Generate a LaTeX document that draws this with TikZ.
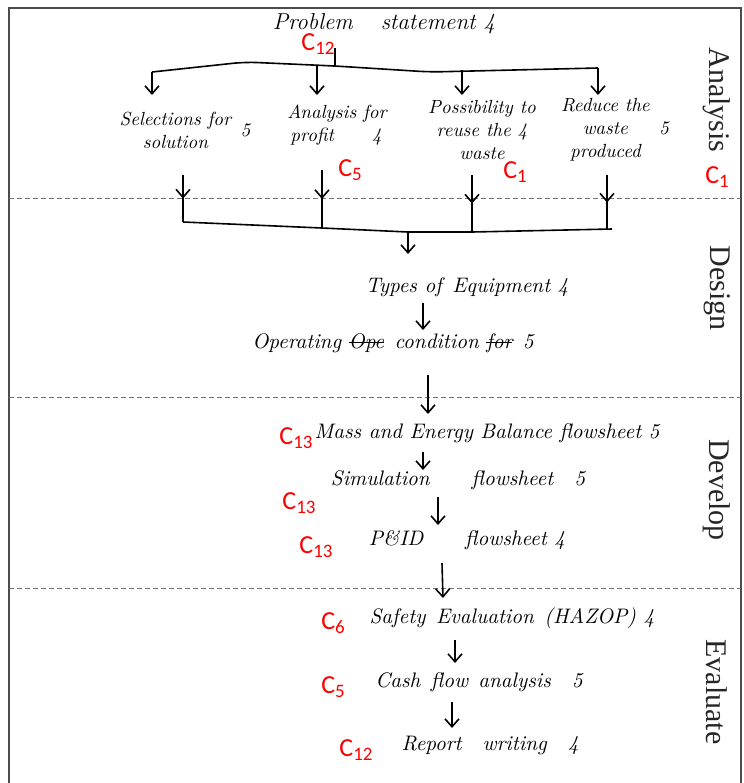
\documentclass[tikz,border=0pt]{standalone}
\usepackage{fontspec}
\usetikzlibrary{arrows.meta,positioning,calc,decorations.markings}
\newfontfamily\tagfont{Carlito}
\newfontfamily\phasefont{Liberation Serif}
\newcommand{\ctag}[1]{C\raisebox{-0.3ex}{\fontsize{9.5}{9.5}\selectfont #1}}
\newcommand{\crossout}[1]{\setbox0\hbox{#1}\rlap{\rule[0.6ex]{\wd0}{0.6pt}}\box0}

\begin{document}
\begin{tikzpicture}[x=0.5pt,y=-0.5pt,
  hand/.style={font=\fontsize{10.5}{12}\selectfont\itshape, inner sep=1pt},
  subhand/.style={font=\fontsize{9.5}{11.5}\selectfont\itshape, inner sep=1pt},
  tag/.style={font=\tagfont\fontsize{13}{13}\selectfont, text=red, inner sep=0pt},
  phase/.style={font=\phasefont\fontsize{15}{15}\selectfont, rotate=-90, text=black!85},
  flow/.style={-{Straight Barb[length=4pt,width=7pt]}, line width=0.8pt},
  midflow/.style={line width=0.8pt, decoration={markings,
      mark=at position 0.5 with {\arrow{Straight Barb[length=4pt,width=7pt]}}},
    postaction=decorate},
  border/.style={draw=black!70, line width=0.6pt},
  divider/.style={draw=black!55, dash pattern=on 2.5pt off 1.5pt, line width=0.4pt}]
  \useasboundingbox (0,0) rectangle (744,783);

  % frame and phase dividers
  \draw[border] (9,783) -- (9,8) -- (741,8) -- (741,783);
  \foreach \yy in {198,397,588}
    \draw[divider] (9,\yy) -- (741,\yy);

  \node[phase] (analysis) at (717,100) {Analysis};
  \node[phase] (design)   at (717,288) {Design};
  \node[phase] (develop)  at (717,490) {Develop};
  \node[phase] (evaluate) at (717,692) {Evaluate};
  \node[tag] (tanalysis) at (717,177) {\ctag{1}};

  % analysis
  \node[hand, font=\fontsize{11.5}{13}\selectfont\itshape] (prob) at (384,24)
    {Problem\hspace{14pt}statement 4};
  \node[tag] (tprob) at (318,44) {\ctag{12}};

  \node[subhand] (sel) at (185,132)
    {\begin{tabular}{@{}c@{}}Selections for\\solution\end{tabular}\enspace 5};
  \node[subhand] (ana) at (337,125)
    {\begin{tabular}{@{}l@{}}Analysis for\\\,profit\qquad 4\end{tabular}};
  \node[subhand] (pos) at (482,132)
    {\begin{tabular}{@{}c@{}}Possibility to\\reuse the 4\\waste\end{tabular}};
  \node[subhand] (red) at (615,130)
    {\begin{tabular}{@{}c@{}}Reduce the\\waste\\produced\end{tabular}\enspace 5};
  \node[tag] (tana) at (350,170) {\ctag{5}};
  \node[tag] (tpos) at (515,172) {\ctag{1}};

  \coordinate (top) at (335,66);
  \coordinate (ua) at (152,72);
  \coordinate (ub) at (245,62);
  \coordinate (uc) at (430,72);
  \coordinate (ud) at (598,68);
  \draw[line width=0.8pt, rounded corners=6pt] (ua) -- (ub) -- (top) -- (uc) -- (ud);
  \draw[line width=0.8pt] ($(prob)+(-49,24)$) -- (top);
  \draw[flow] (ua) -- ($(sel)+(-33,-37)$);
  \draw[flow] ($(ana)+(-20,-60)$) -- ($(ana)+(-20,-30)$);
  \draw[flow] ($(pos)+(-20,-62)$) -- ($(pos)+(-20,-37)$);
  \draw[flow] (ud) -- ($(red)+(-17,-35)$);

  % design
  \coordinate (la) at (183,222);
  \coordinate (lb) at (322,228);
  \coordinate (mid) at (408,232);
  \coordinate (lc) at (472,232);
  \coordinate (ld) at (607,230);
  \coordinate (le) at (612,229);
  \draw[line width=0.8pt] (la) -- (lb) -- (mid) -- (lc) -- (le);
  \draw[midflow] ($(sel)+(-2,43)$) -- (la);
  \draw[midflow] ($(ana)+(-15,45)$) -- (lb);
  \draw[midflow] ($(pos)+(-10,43)$) -- (lc);
  \draw[midflow] ($(red)+(-8,45)$) -- (ld);

  \node[hand] (types) at (467,287) {Types of\enspace Equipment 4};
  \node[hand] (oper) at (393,343)
    {Operating \crossout{Ope}\enspace condition \crossout{for}\enspace 5};
  \draw[flow] (mid) -- ($(types)+(-59,-33)$);
  \draw[flow] ($(types)+(-44,16)$) -- ($(oper)+(30,-13)$);

  % develop
  \node[hand] (mass) at (487,433) {Mass and Energy Balance flowsheet 5};
  \node[hand] (simu) at (458,480) {Simulation\qquad flowsheet\quad 5};
  \node[hand] (pid) at (467,540) {P\&ID\qquad flowsheet 4};
  \node[tag] (tmass) at (296,438) {\ctag{13}};
  \node[tag] (tsimu) at (299,503) {\ctag{13}};
  \node[tag] (tpid) at (316,547) {\ctag{13}};
  \draw[flow] ($(oper)+(35,32)$) -- ($(mass)+(-59,-19)$);
  \draw[flow] ($(mass)+(-64,19)$) -- ($(simu)+(-35,-10)$);
  \draw[flow] ($(simu)+(-20,17)$) -- ($(pid)+(-29,-15)$);

  % evaluate
  \node[hand] (safe) at (512,618) {Safety\enspace Evaluation\enspace (HAZOP) 4};
  \node[hand] (cash) at (479,682) {Cash\enspace flow\enspace analysis\quad 5};
  \node[hand] (rep) at (490,745) {Report\quad writing\quad 4};
  \node[tag] (tsafe) at (333,623) {\ctag{6}};
  \node[tag] (tcash) at (333,687) {\ctag{5}};
  \node[tag] (trep) at (356,750) {\ctag{12}};
  \draw[flow] ($(pid)+(-25,23)$) -- ($(safe)+(-69,-20)$);
  \draw[flow] ($(safe)+(-57,22)$) -- ($(cash)+(-24,-19)$);
  \draw[flow] ($(cash)+(-27,20)$) -- ($(rep)+(-38,-17)$);
\end{tikzpicture}
\end{document}
